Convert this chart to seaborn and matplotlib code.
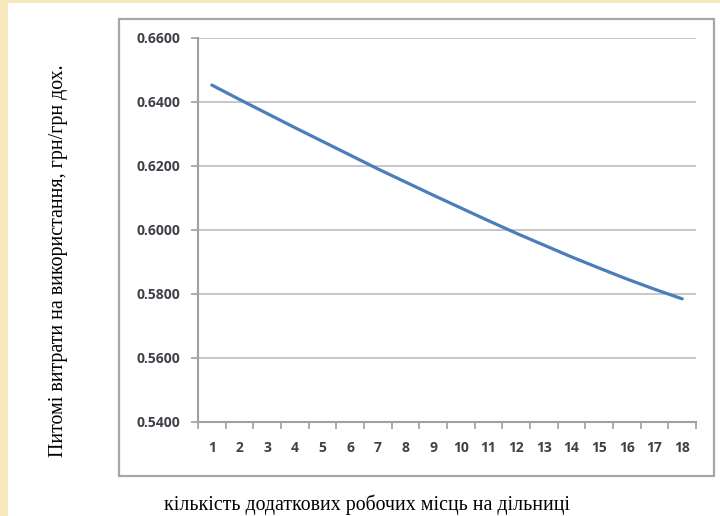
import numpy as np
import pandas as pd
import seaborn as sns
import matplotlib.pyplot as plt
from matplotlib.patches import Rectangle

# data
workplaces = list(range(1, 19))
unit_cost = [0.6452, 0.6407, 0.6363, 0.6319, 0.6276, 0.6233, 0.6190, 0.6149, 0.6108,
             0.6068, 0.6028, 0.5989, 0.5952, 0.5915, 0.5880, 0.5846, 0.5814, 0.5784]
y_ticks = [0.54, 0.56, 0.58, 0.60, 0.62, 0.64, 0.66]
x_label = 'кількість додаткових робочих місць на дільниці'
y_label = 'Питомі витрати на використання, грн/грн дох.'

df = pd.DataFrame({'n': workplaces, 'cost': unit_cost})

sns.set_style('white')
plt.rcParams['font.family'] = ['Open Sans', 'DejaVu Sans']

W, H = 720, 516
fig = plt.figure(figsize=(W / 100, H / 100), dpi=100, facecolor='#f7e8bd')

# white page and the chart frame (pixel boxes converted to figure coords)
def px_box(x0, y0, x1, y1):
    return (x0 / W, 1 - y1 / H), (x1 - x0) / W, (y1 - y0) / H

xy, w, h = px_box(8, 3, 720, 516)
fig.patches.append(Rectangle(xy, w, h, transform=fig.transFigure, facecolor='white',
                             edgecolor='none', zorder=0))
xy, w, h = px_box(119, 19, 714, 476)
fig.patches.append(Rectangle(xy, w, h, transform=fig.transFigure, facecolor='white',
                             edgecolor='#a6a6a6', linewidth=1.6, zorder=1))

xy, w, h = px_box(198, 37.7, 696, 421.7)
ax = fig.add_axes([xy[0], xy[1], w, h])
ax.set_zorder(3)
ax.set_facecolor('none')

sns.lineplot(data=df, x='n', y='cost', ax=ax, color='#4a7ebb', linewidth=2.3)

ax.set_xlim(0.5, 18.5)
ax.set_ylim(0.54, 0.66)
ax.set_yticks(y_ticks)
ax.set_yticklabels([f'{v:.4f}' for v in y_ticks])
ax.set_xticks(workplaces)
ax.set_xticklabels([str(v) for v in workplaces])
ax.set_xticks(np.arange(0.5, 19, 1), minor=True)

ax.grid(axis='y', color='#bdbdbd', linewidth=1.2)
ax.grid(axis='x', visible=False)
ax.set_axisbelow(True)
for s in ['top', 'right']:
    ax.spines[s].set_visible(False)
for s in ['left', 'bottom']:
    ax.spines[s].set_color('#a0a0a0')
    ax.spines[s].set_linewidth(1.5)

tick_font = dict(fontsize=10, fontweight='bold', color='#40404a')
ax.tick_params(axis='y', which='major', length=5, width=1.2, color='#a0a0a0', pad=8, left=True)
ax.tick_params(axis='x', which='major', length=0, pad=14, bottom=True)
ax.tick_params(axis='x', which='minor', length=5, width=1.2, color='#a0a0a0', bottom=True)
for lab in ax.get_xticklabels() + ax.get_yticklabels():
    lab.set_fontsize(tick_font['fontsize'])
    lab.set_fontweight(tick_font['fontweight'])
    lab.set_color(tick_font['color'])
ax.set_xlabel('')
ax.set_ylabel('')

fig.text(367 / W, 1 - 505 / H, x_label, ha='center', va='center',
         family=['Liberation Serif', 'DejaVu Serif'], fontsize=14.3, color='black')
fig.text(58 / W, 1 - 260.5 / H, y_label, ha='center', va='center', rotation=90,
         family=['Liberation Serif', 'DejaVu Serif'], fontsize=14.3, color='black')

fig.savefig('out.png', dpi=100, facecolor=fig.get_facecolor())
plt.close()
